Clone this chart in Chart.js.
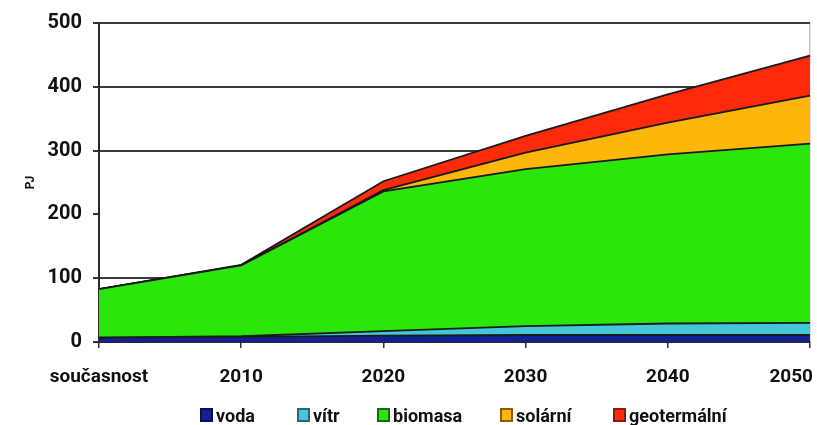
<!DOCTYPE html>
<html lang="cs">
<head>
<meta charset="utf-8">
<script src="https://cdn.jsdelivr.net/npm/chart.js@4/dist/chart.umd.min.js"></script>
<style>
  html, body { margin: 0; padding: 0; background: #ffffff; }
  #wrap { position: relative; width: 817px; height: 425px; }
  #legend { position: absolute; left: 0; top: 404px; width: 817px; height: 22px;
            font: bold 18px Roboto, "Liberation Sans", sans-serif; color: #111; }
  .item { position: absolute; top: 0; height: 22px; display: flex; align-items: center; white-space: nowrap; }
  .box { width: 13px; height: 14px; border: 2px solid #333; margin-right: 3px; box-sizing: border-box; }
</style>
</head>
<body>
<div id="wrap">
  <canvas id="c" width="817" height="425"></canvas>
  <div id="legend"></div>
</div>
<script>
// Energie z obnovitelných zdrojů (PJ)
const categories = ['současnost', '2010', '2020', '2030', '2040', '2050'];
const voda        = [7, 8, 10, 11, 11, 11];
const vitr        = [0, 1, 7, 14, 18, 19];
const biomasa     = [76, 111, 219, 246, 265, 281];
const solarni     = [0, 0, 2, 26, 50, 75];
const geotermalni = [0, 1, 14, 26, 44, 63];
const yTicks      = [0, 100, 200, 300, 400, 500];

const seriesNames  = ['voda', 'vítr', 'biomasa', 'solární', 'geotermální'];
const seriesColors = ['#14208f', '#42c6d8', '#2be60a', '#ffb60a', '#ff2a0a'];
const boxBorders   = ['#0a0f50', '#2a6a78', '#1a6a10', '#8a5a10', '#8a1a0a'];
const legendLeft   = [200, 297, 377, 500, 613];

const seriesData = [voda, vitr, biomasa, solarni, geotermalni];

const datasets = seriesData.map((d, i) => ({
  label: seriesNames[i],
  data: d,
  backgroundColor: seriesColors[i],
  borderColor: '#1a1a1a',
  borderWidth: 1.8,
  pointRadius: 0,
  tension: 0,
  fill: i === 0 ? 'origin' : '-1'
}));

// category labels under the axis, kept inside the canvas at the right edge
const xLabelsPlugin = {
  id: 'xLabels',
  afterDraw(chart) {
    const ctx = chart.ctx;
    const xs = chart.scales.x;
    ctx.save();
    ctx.font = 'bold 19px Roboto, "Liberation Sans", sans-serif';
    ctx.fillStyle = '#111';
    ctx.textAlign = 'center';
    ctx.textBaseline = 'middle';
    categories.forEach((lab, i) => {
      const w = ctx.measureText(lab).width;
      let x = xs.getPixelForValue(i);
      x = Math.min(x, chart.width - 4 - w / 2);
      ctx.fillText(lab, x, 377);
    });
    ctx.restore();
  }
};

new Chart(document.getElementById('c'), {
  type: 'line',
  data: { labels: categories, datasets },
  plugins: [xLabelsPlugin],
  options: {
    responsive: false,
    animation: false,
    devicePixelRatio: 1,
    layout: { padding: { top: 20, left: 0, right: 7, bottom: 77 } },
    plugins: { legend: { display: false }, tooltip: { enabled: false }, title: { display: false } },
    scales: {
      x: {
        type: 'category',
        offset: false,
        ticks: { display: false },
        grid: {
          drawOnChartArea: true,
          color: (c) => (c.index === categories.length - 1 ? '#c4c4c4' : 'rgba(0,0,0,0)'),
          tickColor: '#333',
          tickLength: 6,
          lineWidth: 1.5
        },
        border: { display: true, color: '#2a2a2a', width: 2 }
      },
      y: {
        stacked: true,
        min: 0,
        max: 500,
        afterBuildTicks: (s) => { s.ticks = yTicks.map(v => ({ value: v })); },
        afterFit: (s) => { s.width = 99; },
        ticks: {
          font: { family: 'Roboto, "Liberation Sans", sans-serif', size: 20, weight: 'bold' },
          color: '#111',
          padding: 11
        },
        grid: {
          // the 200 line is left out
          color: (c) => (c.tick && c.tick.value === 200 ? 'rgba(0,0,0,0)' : '#3c3c3c'),
          tickColor: '#333',
          tickLength: 6,
          lineWidth: 2
        },
        border: { display: true, color: '#2a2a2a', width: 2 },
        title: {
          display: true,
          text: 'PJ',
          font: { family: 'Roboto, "Liberation Sans", sans-serif', size: 12, weight: 'bold' },
          color: '#111',
          padding: { top: 24, bottom: 0 }
        }
      }
    }
  }
});

// legend row
const legend = document.getElementById('legend');
seriesNames.forEach((name, i) => {
  const item = document.createElement('div');
  item.className = 'item';
  item.style.left = legendLeft[i] + 'px';
  const box = document.createElement('span');
  box.className = 'box';
  box.style.background = seriesColors[i];
  box.style.borderColor = boxBorders[i];
  const txt = document.createElement('span');
  txt.textContent = name;
  item.appendChild(box);
  item.appendChild(txt);
  legend.appendChild(item);
});
</script>
</body>
</html>
